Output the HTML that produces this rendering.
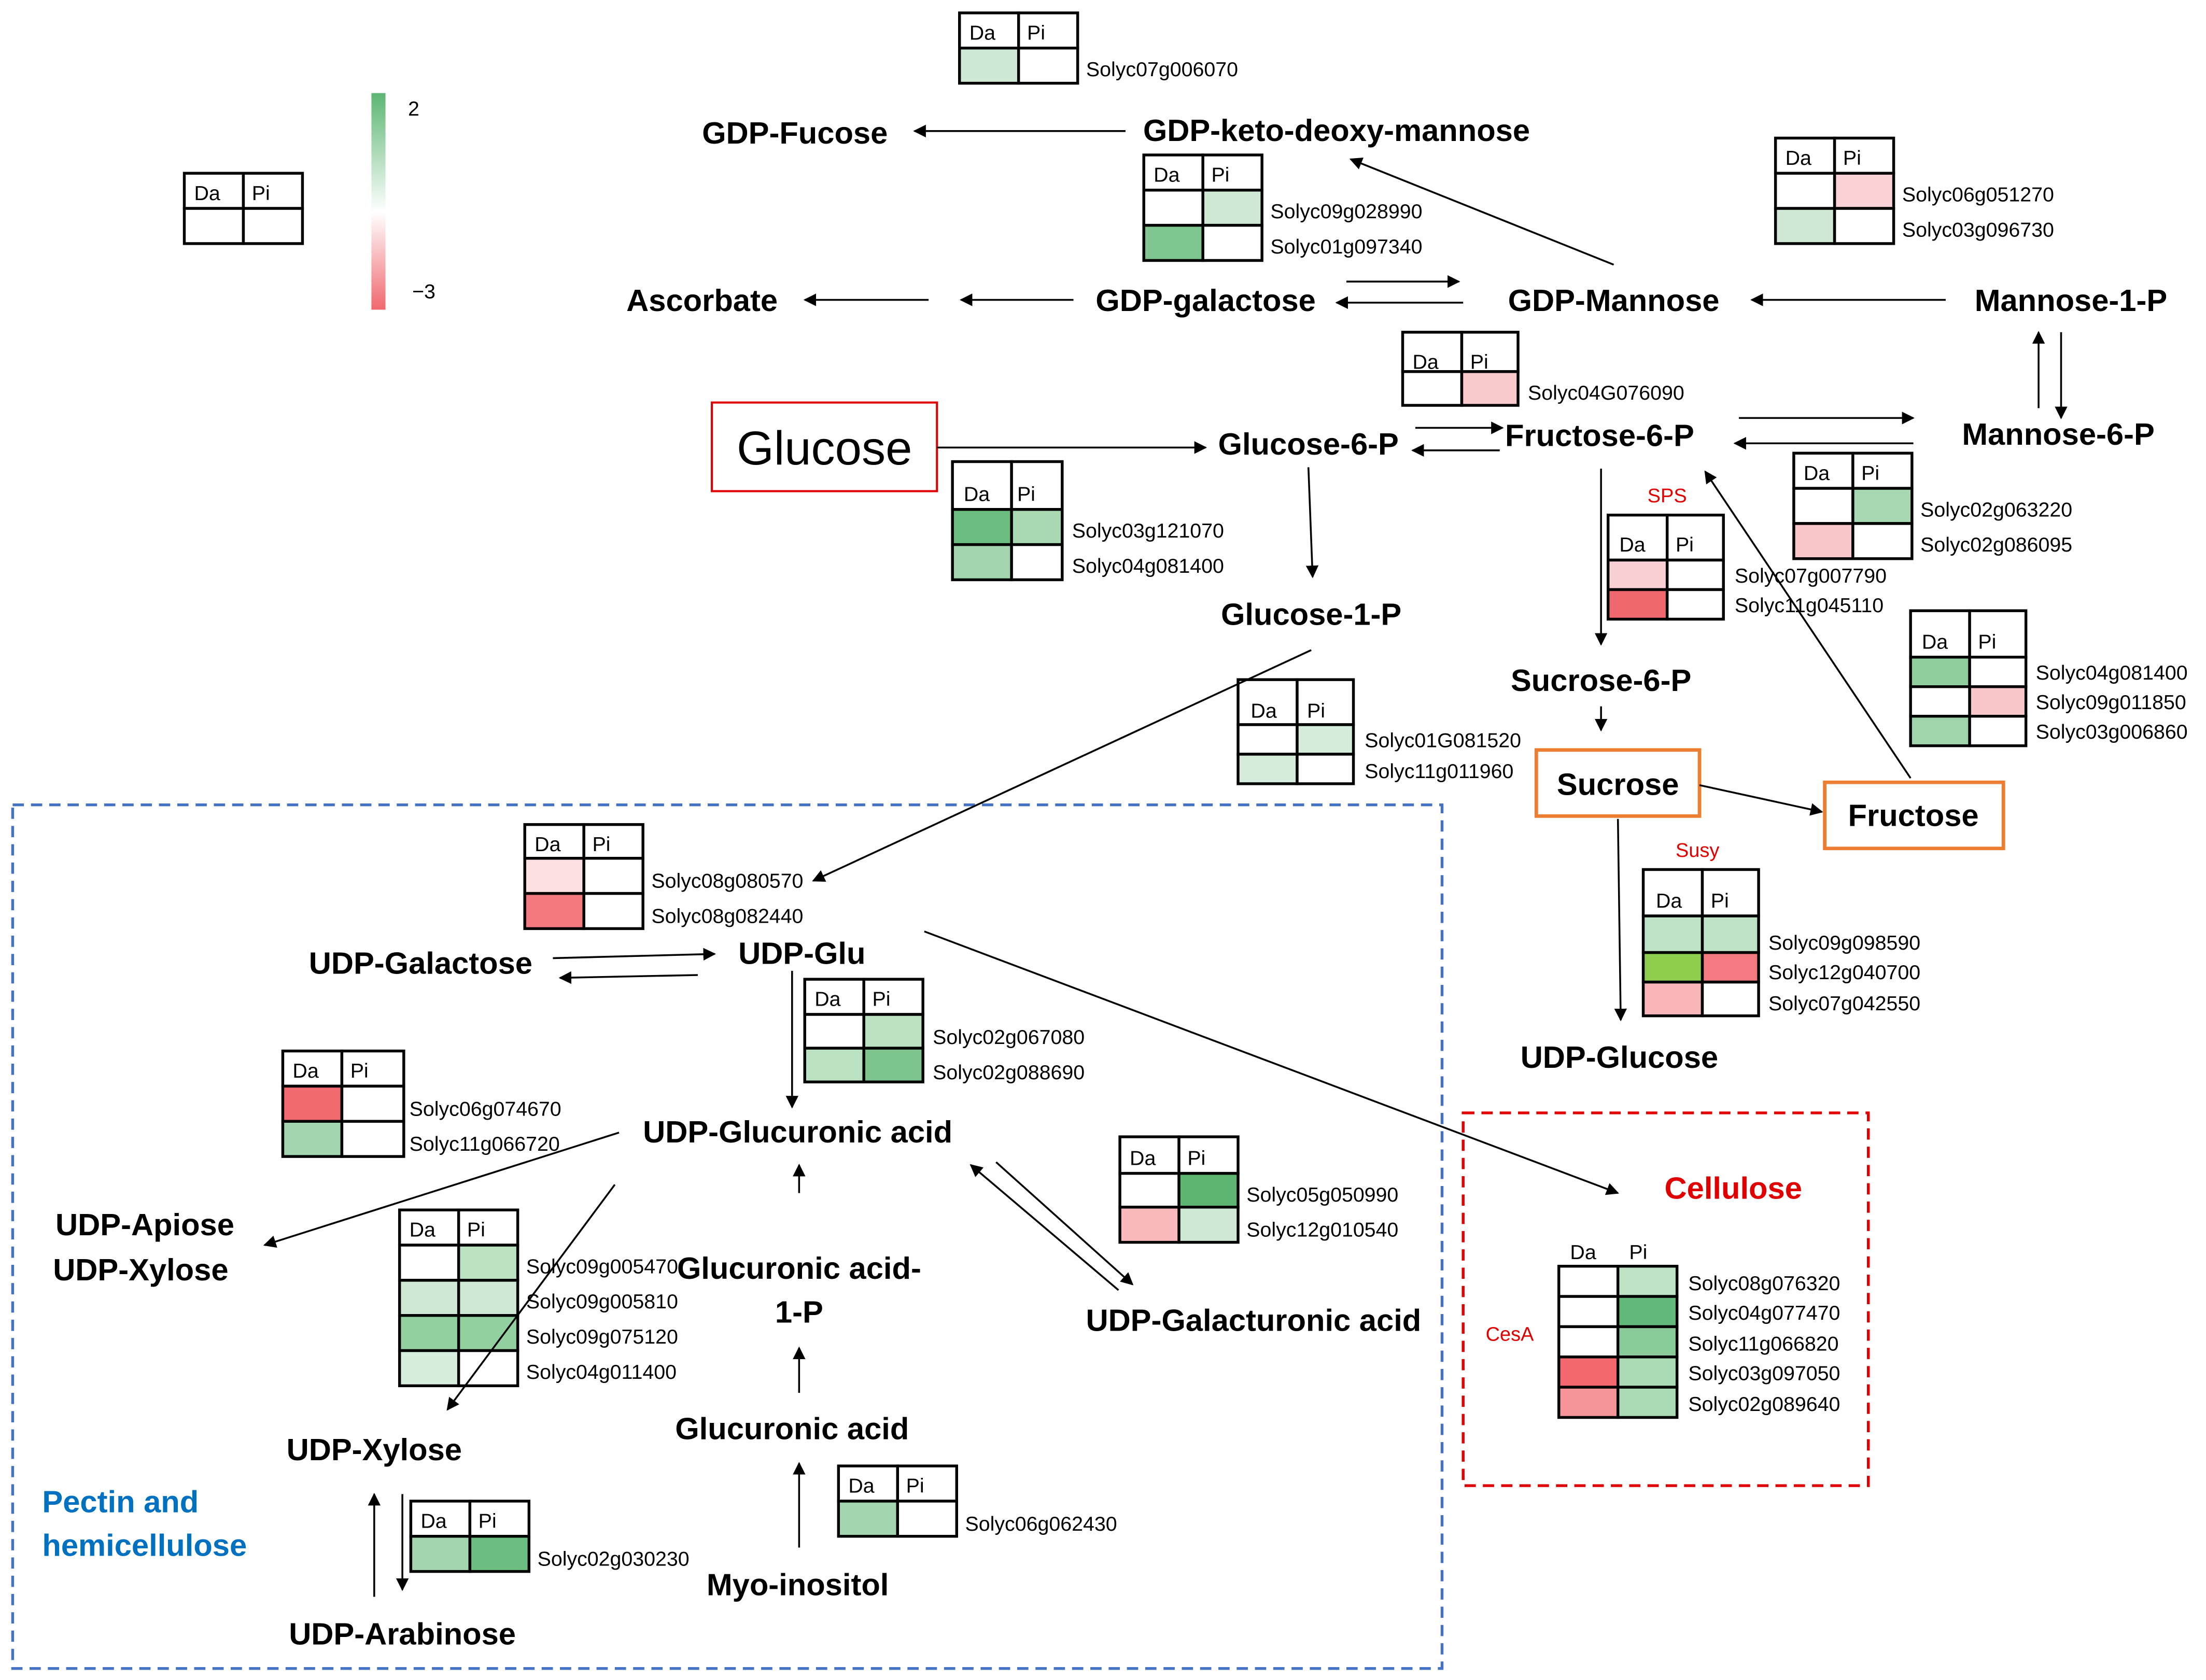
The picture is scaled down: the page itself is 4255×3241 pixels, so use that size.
<!DOCTYPE html>
<html><head><meta charset="utf-8"><style>
html,body{margin:0;padding:0;background:#fff}
svg{display:block}
text{font-family:"Liberation Sans",sans-serif}
.n{font-weight:bold;font-size:22px;text-anchor:middle;fill:#000}
.g{font-size:14.5px;fill:#000}
.h{font-size:14.5px;fill:#000}
.c{stroke:#000;stroke-width:2}
.a{stroke:#000;stroke-width:1.3;fill:none;marker-end:url(#ar)}
</style></head><body>
<svg width="4255" height="3241" viewBox="0 0 1568 1194" xmlns="http://www.w3.org/2000/svg">
<defs>
<marker id="ar" viewBox="0 0 10 10" refX="9" refY="5" markerWidth="9" markerHeight="9" markerUnits="userSpaceOnUse" orient="auto"><path d="M0,0 L10,5 L0,10 z" fill="#000"/></marker>
<linearGradient id="cb" x1="0" y1="0" x2="0" y2="1"><stop offset="0" stop-color="#5cb672"/><stop offset="0.55" stop-color="#ffffff"/><stop offset="1" stop-color="#f0686e"/></linearGradient>
</defs>

<!-- legend -->
<rect x="264" y="66" width="10" height="154" fill="url(#cb)"/>
<text x="290" y="82" class="g" font-size="16">2</text>
<text x="293" y="212" class="g" font-size="16">−3</text>
<g transform="translate(131,123)"><rect class="c" width="42" height="25" fill="#fff"/><rect class="c" x="42" width="42" height="25" fill="#fff"/><rect class="c" y="25" width="42" height="25" fill="#fff"/><rect class="c" x="42" y="25" width="42" height="25" fill="#fff"/><text class="h" x="7" y="19">Da</text><text class="h" x="48" y="19">Pi</text></g>

<!-- tables -->
<g transform="translate(682,9)"><rect class="c" width="42" height="25" fill="#fff"/><rect class="c" x="42" width="42" height="25" fill="#fff"/><rect class="c" y="25" width="42" height="25" fill="#cde9d6"/><rect class="c" x="42" y="25" width="42" height="25" fill="#fff"/><text class="h" x="7" y="19">Da</text><text class="h" x="48" y="19">Pi</text></g>
<text class="g" x="772" y="54">Solyc07g006070</text>

<g transform="translate(813,110)"><rect class="c" width="42" height="25" fill="#fff"/><rect class="c" x="42" width="42" height="25" fill="#fff"/><rect class="c" y="25" width="42" height="25" fill="#fff"/><rect class="c" x="42" y="25" width="42" height="25" fill="#cfe8d4"/><rect class="c" y="50" width="42" height="25" fill="#7fc58f"/><rect class="c" x="42" y="50" width="42" height="25" fill="#fff"/><text class="h" x="7" y="19">Da</text><text class="h" x="48" y="19">Pi</text></g>
<text class="g" x="903" y="155">Solyc09g028990</text><text class="g" x="903" y="180">Solyc01g097340</text>

<g transform="translate(1262,98)"><rect class="c" width="42" height="25" fill="#fff"/><rect class="c" x="42" width="42" height="25" fill="#fff"/><rect class="c" y="25" width="42" height="25" fill="#fff"/><rect class="c" x="42" y="25" width="42" height="25" fill="#f9d0d3"/><rect class="c" y="50" width="42" height="25" fill="#cfe8d4"/><rect class="c" x="42" y="50" width="42" height="25" fill="#fff"/><text class="h" x="7" y="19">Da</text><text class="h" x="48" y="19">Pi</text></g>
<text class="g" x="1352" y="143">Solyc06g051270</text><text class="g" x="1352" y="168">Solyc03g096730</text>

<g transform="translate(997,236)"><rect class="c" width="42" height="28" fill="#fff"/><rect class="c" x="42" width="40" height="28" fill="#fff"/><rect class="c" y="28" width="42" height="24" fill="#fff"/><rect class="c" x="42" y="28" width="40" height="24" fill="#f9c9cc"/><text class="h" x="7" y="26">Da</text><text class="h" x="48" y="26">Pi</text></g>
<text class="g" x="1086" y="284">Solyc04G076090</text>

<g transform="translate(677,328)"><rect class="c" width="42" height="34" fill="#fff"/><rect class="c" x="42" width="36" height="34" fill="#fff"/><rect class="c" y="34" width="42" height="25" fill="#6cbd80"/><rect class="c" x="42" y="34" width="36" height="25" fill="#a9d9b3"/><rect class="c" y="59" width="42" height="25" fill="#a3d6ae"/><rect class="c" x="42" y="59" width="36" height="25" fill="#fff"/><text class="h" x="8" y="28">Da</text><text class="h" x="46" y="28">Pi</text></g>
<text class="g" x="762" y="382">Solyc03g121070</text><text class="g" x="762" y="407">Solyc04g081400</text>

<g transform="translate(1275,322)"><rect class="c" width="42" height="25" fill="#fff"/><rect class="c" x="42" width="42" height="25" fill="#fff"/><rect class="c" y="25" width="42" height="25" fill="#fff"/><rect class="c" x="42" y="25" width="42" height="25" fill="#a7d8b1"/><rect class="c" y="50" width="42" height="25" fill="#f9c6ca"/><rect class="c" x="42" y="50" width="42" height="25" fill="#fff"/><text class="h" x="7" y="19">Da</text><text class="h" x="48" y="19">Pi</text></g>
<text class="g" x="1365" y="367">Solyc02g063220</text><text class="g" x="1365" y="392">Solyc02g086095</text>

<text x="1171" y="357" font-size="14" fill="#e00000">SPS</text>
<g transform="translate(1143,366)"><rect class="c" width="42" height="32" fill="#fff"/><rect class="c" x="42" width="40" height="32" fill="#fff"/><rect class="c" y="32" width="42" height="21" fill="#f8d0d3"/><rect class="c" x="42" y="32" width="40" height="21" fill="#fff"/><rect class="c" y="53" width="42" height="21" fill="#f0686e"/><rect class="c" x="42" y="53" width="40" height="21" fill="#fff"/><text class="h" x="8" y="26">Da</text><text class="h" x="48" y="26">Pi</text></g>
<text class="g" x="1233" y="414">Solyc07g007790</text><text class="g" x="1233" y="435">Solyc11g045110</text>

<g transform="translate(1358,434)"><rect class="c" width="42" height="33" fill="#fff"/><rect class="c" x="42" width="40" height="33" fill="#fff"/><rect class="c" y="33" width="42" height="21" fill="#90cf9d"/><rect class="c" x="42" y="33" width="40" height="21" fill="#fff"/><rect class="c" y="54" width="42" height="21" fill="#fff"/><rect class="c" x="42" y="54" width="40" height="21" fill="#f9c6ca"/><rect class="c" y="75" width="42" height="21" fill="#a0d5ab"/><rect class="c" x="42" y="75" width="40" height="21" fill="#fff"/><text class="h" x="8" y="27">Da</text><text class="h" x="48" y="27">Pi</text></g>
<text class="g" x="1447" y="483">Solyc04g081400</text><text class="g" x="1447" y="504">Solyc09g011850</text><text class="g" x="1447" y="525">Solyc03g006860</text>

<g transform="translate(880,483)"><rect class="c" width="42" height="32" fill="#fff"/><rect class="c" x="42" width="40" height="32" fill="#fff"/><rect class="c" y="32" width="42" height="21" fill="#fff"/><rect class="c" x="42" y="32" width="40" height="21" fill="#d5ecda"/><rect class="c" y="53" width="42" height="21" fill="#d5ecda"/><rect class="c" x="42" y="53" width="40" height="21" fill="#fff"/><text class="h" x="9" y="27">Da</text><text class="h" x="49" y="27">Pi</text></g>
<text class="g" x="970" y="531">Solyc01G081520</text><text class="g" x="970" y="553">Solyc11g011960</text>

<g transform="translate(373,586)"><rect class="c" width="42" height="24" fill="#fff"/><rect class="c" x="42" width="42" height="24" fill="#fff"/><rect class="c" y="24" width="42" height="25" fill="#fbdfe1"/><rect class="c" x="42" y="24" width="42" height="25" fill="#fff"/><rect class="c" y="49" width="42" height="25" fill="#f27a7f"/><rect class="c" x="42" y="49" width="42" height="25" fill="#fff"/><text class="h" x="7" y="19">Da</text><text class="h" x="48" y="19">Pi</text></g>
<text class="g" x="463" y="631">Solyc08g080570</text><text class="g" x="463" y="656">Solyc08g082440</text>

<text x="1191" y="609" font-size="14" fill="#e00000">Susy</text>
<g transform="translate(1168,618)"><rect class="c" width="42" height="33" fill="#fff"/><rect class="c" x="42" width="40" height="33" fill="#fff"/><rect class="c" y="33" width="42" height="26" fill="#bfe3c7"/><rect class="c" x="42" y="33" width="40" height="26" fill="#bfe3c7"/><rect class="c" y="59" width="42" height="21" fill="#8fcd4f"/><rect class="c" x="42" y="59" width="40" height="21" fill="#f27a80"/><rect class="c" y="80" width="42" height="24" fill="#f9b5b9"/><rect class="c" x="42" y="80" width="40" height="24" fill="#fff"/><text class="h" x="9" y="27">Da</text><text class="h" x="48" y="27">Pi</text></g>
<text class="g" x="1257" y="675">Solyc09g098590</text><text class="g" x="1257" y="696">Solyc12g040700</text><text class="g" x="1257" y="718">Solyc07g042550</text>

<g transform="translate(572,696)"><rect class="c" width="42" height="25" fill="#fff"/><rect class="c" x="42" width="42" height="25" fill="#fff"/><rect class="c" y="25" width="42" height="24" fill="#fff"/><rect class="c" x="42" y="25" width="42" height="24" fill="#b9e1c2"/><rect class="c" y="49" width="42" height="24" fill="#b9e1c2"/><rect class="c" x="42" y="49" width="42" height="24" fill="#7dc48e"/><text class="h" x="7" y="19">Da</text><text class="h" x="48" y="19">Pi</text></g>
<text class="g" x="663" y="742">Solyc02g067080</text><text class="g" x="663" y="767">Solyc02g088690</text>

<g transform="translate(201,747)"><rect class="c" width="42" height="25" fill="#fff"/><rect class="c" x="42" width="44" height="25" fill="#fff"/><rect class="c" y="25" width="42" height="25" fill="#f06a70"/><rect class="c" x="42" y="25" width="44" height="25" fill="#fff"/><rect class="c" y="50" width="42" height="25" fill="#a3d6ae"/><rect class="c" x="42" y="50" width="44" height="25" fill="#fff"/><text class="h" x="7" y="19">Da</text><text class="h" x="48" y="19">Pi</text></g>
<text class="g" x="291" y="793">Solyc06g074670</text><text class="g" x="291" y="818">Solyc11g066720</text>

<g transform="translate(284,860)"><rect class="c" width="42" height="25" fill="#fff"/><rect class="c" x="42" width="42" height="25" fill="#fff"/><rect class="c" y="25" width="42" height="25" fill="#fff"/><rect class="c" x="42" y="25" width="42" height="25" fill="#b9e1c2"/><rect class="c" y="50" width="42" height="25" fill="#cfe8d4"/><rect class="c" x="42" y="50" width="42" height="25" fill="#cfe8d4"/><rect class="c" y="75" width="42" height="25" fill="#93d0a0"/><rect class="c" x="42" y="75" width="42" height="25" fill="#93d0a0"/><rect class="c" y="100" width="42" height="25" fill="#d8eedd"/><rect class="c" x="42" y="100" width="42" height="25" fill="#fff"/><text class="h" x="7" y="19">Da</text><text class="h" x="48" y="19">Pi</text></g>
<text class="g" x="374" y="905">Solyc09g005470</text><text class="g" x="374" y="930">Solyc09g005810</text><text class="g" x="374" y="955">Solyc09g075120</text><text class="g" x="374" y="980">Solyc04g011400</text>

<g transform="translate(796,808)"><rect class="c" width="42" height="26" fill="#fff"/><rect class="c" x="42" width="42" height="26" fill="#fff"/><rect class="c" y="26" width="42" height="24" fill="#fff"/><rect class="c" x="42" y="26" width="42" height="24" fill="#5cb672"/><rect class="c" y="50" width="42" height="25" fill="#f9b8bc"/><rect class="c" x="42" y="50" width="42" height="25" fill="#cfe8d4"/><text class="h" x="7" y="20">Da</text><text class="h" x="48" y="20">Pi</text></g>
<text class="g" x="886" y="854">Solyc05g050990</text><text class="g" x="886" y="879">Solyc12g010540</text>

<text x="1056" y="953" font-size="14" fill="#e00000">CesA</text>
<text class="h" x="1116" y="895">Da</text><text class="h" x="1158" y="895">Pi</text>
<g transform="translate(1108,900)"><rect class="c" y="0" width="42" height="21.5" fill="#fff"/><rect class="c" x="42" y="0" width="42" height="21.5" fill="#bfe3c7"/><rect class="c" y="21.5" width="42" height="21.5" fill="#fff"/><rect class="c" x="42" y="21.5" width="42" height="21.5" fill="#62ba7a"/><rect class="c" y="43" width="42" height="21.5" fill="#fff"/><rect class="c" x="42" y="43" width="42" height="21.5" fill="#88cb98"/><rect class="c" y="64.5" width="42" height="21.5" fill="#f2686e"/><rect class="c" x="42" y="64.5" width="42" height="21.5" fill="#a9dab4"/><rect class="c" y="86" width="42" height="21.5" fill="#f5959a"/><rect class="c" x="42" y="86" width="42" height="21.5" fill="#a9dab4"/></g>
<text class="g" x="1200" y="917">Solyc08g076320</text><text class="g" x="1200" y="938">Solyc04g077470</text><text class="g" x="1200" y="960">Solyc11g066820</text><text class="g" x="1200" y="981">Solyc03g097050</text><text class="g" x="1200" y="1003">Solyc02g089640</text>

<g transform="translate(596,1042)"><rect class="c" width="42" height="25" fill="#fff"/><rect class="c" x="42" width="42" height="25" fill="#fff"/><rect class="c" y="25" width="42" height="25" fill="#a3d6ae"/><rect class="c" x="42" y="25" width="42" height="25" fill="#fff"/><text class="h" x="7" y="19">Da</text><text class="h" x="48" y="19">Pi</text></g>
<text class="g" x="686" y="1088">Solyc06g062430</text>

<g transform="translate(292,1067)"><rect class="c" width="42" height="25" fill="#fff"/><rect class="c" x="42" width="42" height="25" fill="#fff"/><rect class="c" y="25" width="42" height="25" fill="#a3d6ae"/><rect class="c" x="42" y="25" width="42" height="25" fill="#6cbd80"/><text class="h" x="7" y="19">Da</text><text class="h" x="48" y="19">Pi</text></g>
<text class="g" x="382" y="1113">Solyc02g030230</text>

<!-- regions -->
<rect x="9" y="572" width="1016" height="614" fill="none" stroke="#4472c4" stroke-width="2" stroke-dasharray="8,5"/>
<rect x="1040" y="791" width="288" height="265" fill="none" stroke="#e00000" stroke-width="2" stroke-dasharray="8,5"/>
<rect x="506" y="286" width="160" height="63" fill="none" stroke="#e00000" stroke-width="1.5"/>
<rect x="1092" y="533" width="116" height="47" fill="none" stroke="#ed7d31" stroke-width="2.5"/>
<rect x="1297" y="556" width="127" height="47" fill="none" stroke="#ed7d31" stroke-width="2.5"/>

<!-- node labels -->
<text class="n" x="565" y="102">GDP-Fucose</text>
<text class="n" x="950" y="100">GDP-keto-deoxy-mannose</text>
<text class="n" x="499" y="221">Ascorbate</text>
<text class="n" x="857" y="221">GDP-galactose</text>
<text class="n" x="1147" y="221">GDP-Mannose</text>
<text class="n" x="1472" y="221">Mannose-1-P</text>
<text x="586" y="330" font-size="34" text-anchor="middle">Glucose</text>
<text class="n" x="930" y="323">Glucose-6-P</text>
<text class="n" x="1137" y="317">Fructose-6-P</text>
<text class="n" x="1463" y="316">Mannose-6-P</text>
<text class="n" x="932" y="444">Glucose-1-P</text>
<text class="n" x="1138" y="491">Sucrose-6-P</text>
<text class="n" x="1150" y="565">Sucrose</text>
<text class="n" x="1360" y="587">Fructose</text>
<text class="n" x="1151" y="759">UDP-Glucose</text>
<text class="n" x="299" y="692">UDP-Galactose</text>
<text class="n" x="570" y="685">UDP-Glu</text>
<text class="n" x="567" y="812">UDP-Glucuronic acid</text>
<text class="n" x="103" y="878">UDP-Apiose</text>
<text class="n" x="100" y="910">UDP-Xylose</text>
<text class="n" x="568" y="909">Glucuronic acid-</text>
<text class="n" x="568" y="940">1-P</text>
<text class="n" x="891" y="946">UDP-Galacturonic acid</text>
<text class="n" x="563" y="1023">Glucuronic acid</text>
<text class="n" x="266" y="1038">UDP-Xylose</text>
<text class="n" x="567" y="1134">Myo-inositol</text>
<text class="n" x="286" y="1169">UDP-Arabinose</text>
<text class="n" x="1232" y="852" fill="#e00000" style="fill:#e00000">Cellulose</text>
<text x="30" y="1075" font-size="22" font-weight="bold" fill="#0070c0">Pectin and</text>
<text x="30" y="1106" font-size="22" font-weight="bold" fill="#0070c0">hemicellulose</text>

<!-- arrows -->
<line class="a" x1="800" y1="93" x2="650" y2="93"/>
<line class="a" x1="1147" y1="188" x2="960" y2="113"/>
<line class="a" x1="1383" y1="213" x2="1245" y2="213"/>
<line class="a" x1="957" y1="200" x2="1037" y2="200"/>
<line class="a" x1="1040" y1="215" x2="950" y2="215"/>
<line class="a" x1="763" y1="213" x2="683" y2="213"/>
<line class="a" x1="660" y1="213" x2="572" y2="213"/>
<line class="a" x1="1449" y1="290" x2="1449" y2="236"/>
<line class="a" x1="1465" y1="236" x2="1465" y2="297"/>
<line class="a" x1="1236" y1="297" x2="1360" y2="297"/>
<line class="a" x1="1360" y1="315" x2="1233" y2="315"/>
<line class="a" x1="666" y1="318" x2="857" y2="318"/>
<line class="a" x1="1006" y1="304" x2="1068" y2="304"/>
<line class="a" x1="1066" y1="320" x2="1004" y2="320"/>
<line class="a" x1="930" y1="332" x2="933" y2="410"/>
<line class="a" x1="1138" y1="333" x2="1138" y2="458"/>
<line class="a" x1="1138" y1="502" x2="1138" y2="519"/>
<line class="a" x1="1208" y1="558" x2="1295" y2="577"/>
<line class="a" x1="1358" y1="553" x2="1212" y2="335"/>
<line class="a" x1="1150" y1="582" x2="1152" y2="725"/>
<line class="a" x1="932" y1="462" x2="578" y2="626"/>
<line class="a" x1="657" y1="662" x2="1150" y2="848"/>
<line class="a" x1="393" y1="681" x2="508" y2="678"/>
<line class="a" x1="496" y1="693" x2="398" y2="695"/>
<line class="a" x1="563" y1="690" x2="563" y2="787"/>
<line class="a" x1="440" y1="805" x2="188" y2="885"/>
<line class="a" x1="437" y1="842" x2="318" y2="1002"/>
<line class="a" x1="568" y1="848" x2="568" y2="828"/>
<line class="a" x1="568" y1="990" x2="568" y2="958"/>
<line class="a" x1="568" y1="1100" x2="568" y2="1040"/>
<line class="a" x1="708" y1="826" x2="805" y2="913"/>
<line class="a" x1="795" y1="917" x2="690" y2="828"/>
<line class="a" x1="266" y1="1135" x2="266" y2="1062"/>
<line class="a" x1="286" y1="1062" x2="286" y2="1130"/>
</svg>
</body></html>
